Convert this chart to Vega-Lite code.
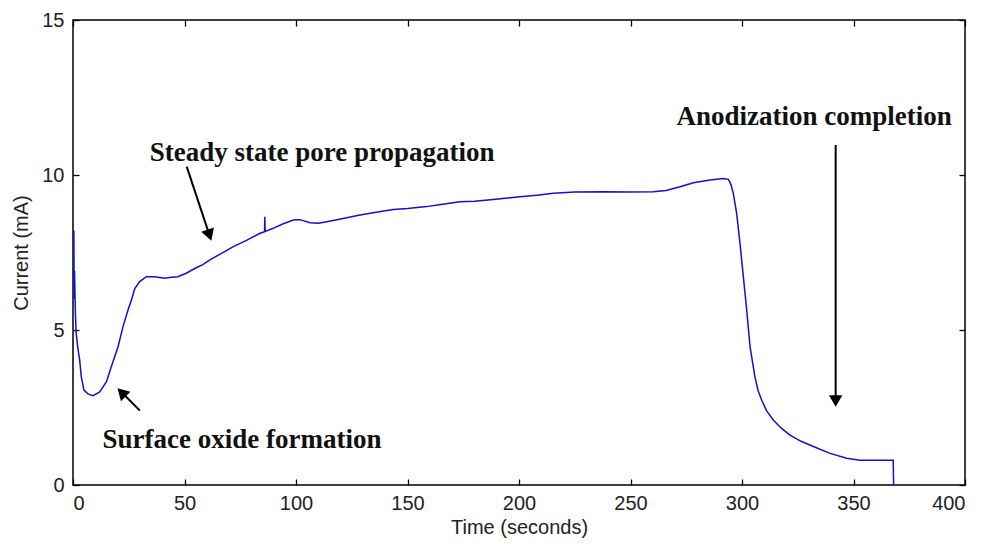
{
  "$schema": "https://vega.github.io/schema/vega-lite/v6.json",
  "width": 892,
  "height": 465,
  "autosize": "none",
  "padding": {"left": 73, "top": 20, "right": 20, "bottom": 59},
  "background": "white",
  "config": {
    "view": {"stroke": "#000000", "strokeWidth": 1.5},
    "axis": {
      "grid": false,
      "domain": false,
      "tickColor": "#000000",
      "tickSize": -6,
      "tickWidth": 1.3,
      "labelFont": "Liberation Sans",
      "labelFontSize": 20,
      "labelColor": "#222222",
      "titleFont": "Liberation Sans",
      "titleFontSize": 20,
      "titleFontWeight": "normal",
      "titleColor": "#222222"
    }
  },
  "datasets": {
    "curve": [
      {"t": 0.4, "I": 8.2}, {"t": 0.5, "I": 6.0}, {"t": 0.7, "I": 6.9}, {"t": 0.9, "I": 6.1},
      {"t": 1.1, "I": 5.5}, {"t": 1.4, "I": 4.9}, {"t": 2.2, "I": 4.4}, {"t": 3, "I": 4.03},
      {"t": 3.7, "I": 3.5}, {"t": 4.9, "I": 3.06}, {"t": 6.7, "I": 2.94}, {"t": 9, "I": 2.88},
      {"t": 12, "I": 3.0}, {"t": 15, "I": 3.33}, {"t": 17.2, "I": 3.82}, {"t": 20.2, "I": 4.46},
      {"t": 22.4, "I": 5.1}, {"t": 24.7, "I": 5.65}, {"t": 26.2, "I": 5.97}, {"t": 27.7, "I": 6.34},
      {"t": 29.9, "I": 6.56}, {"t": 32.9, "I": 6.72}, {"t": 36.6, "I": 6.72}, {"t": 41.1, "I": 6.67},
      {"t": 44, "I": 6.7}, {"t": 47, "I": 6.72}, {"t": 50.8, "I": 6.83}, {"t": 55, "I": 7.0},
      {"t": 58, "I": 7.1}, {"t": 61.4, "I": 7.26}, {"t": 66, "I": 7.45}, {"t": 71.9, "I": 7.69}, {"t": 78, "I": 7.9},
      {"t": 83.9, "I": 8.12}, {"t": 85.9, "I": 8.17}, {"t": 86, "I": 8.65}, {"t": 86.2, "I": 8.18},
      {"t": 89.8, "I": 8.28}, {"t": 94, "I": 8.42}, {"t": 98.8, "I": 8.55}, {"t": 101.8, "I": 8.56},
      {"t": 106.3, "I": 8.46}, {"t": 110, "I": 8.44}, {"t": 113.8, "I": 8.49}, {"t": 120, "I": 8.58},
      {"t": 128.7, "I": 8.71}, {"t": 136, "I": 8.8}, {"t": 143.6, "I": 8.89}, {"t": 150, "I": 8.92},
      {"t": 158.6, "I": 8.98}, {"t": 165, "I": 9.05}, {"t": 173.5, "I": 9.14}, {"t": 180, "I": 9.15},
      {"t": 188.5, "I": 9.21}, {"t": 200.4, "I": 9.3}, {"t": 208, "I": 9.35}, {"t": 215.4, "I": 9.41},
      {"t": 225, "I": 9.45}, {"t": 237.8, "I": 9.46}, {"t": 250, "I": 9.45}, {"t": 260.2, "I": 9.46},
      {"t": 266, "I": 9.5}, {"t": 272.2, "I": 9.62}, {"t": 278.2, "I": 9.75}, {"t": 285.7, "I": 9.84},
      {"t": 291.6, "I": 9.89}, {"t": 293.9, "I": 9.86}, {"t": 295, "I": 9.7}, {"t": 296.1, "I": 9.41}, {"t": 297.6, "I": 8.76},
      {"t": 299.1, "I": 7.8}, {"t": 300.6, "I": 6.72}, {"t": 302.1, "I": 5.65}, {"t": 303.6, "I": 4.46},
      {"t": 305.8, "I": 3.49}, {"t": 307.2, "I": 3.05}, {"t": 308.8, "I": 2.74}, {"t": 311, "I": 2.4}, {"t": 314, "I": 2.1},
      {"t": 317.5, "I": 1.84}, {"t": 321.5, "I": 1.61}, {"t": 326.5, "I": 1.41},
      {"t": 332, "I": 1.24}, {"t": 339.5, "I": 1.02}, {"t": 346.9, "I": 0.86}, {"t": 352.9, "I": 0.8},
      {"t": 360, "I": 0.8}, {"t": 367.8, "I": 0.8}, {"t": 368, "I": 0}
    ],
    "notes": [
      {"label": "Steady state pore propagation", "t": 111.7, "I": 10.7},
      {"label": "Surface oxide formation", "t": 75.8, "I": 1.45},
      {"label": "Anodization completion", "t": 332.3, "I": 11.87}
    ],
    "arrows": [
      {"name": "steady", "t": 51, "I": 10.27, "t2": 61.2, "I2": 8.06},
      {"name": "oxide", "t": 30.0, "I": 2.4, "t2": 21.8, "I2": 2.99},
      {"name": "anod", "t": 342, "I": 10.97, "t2": 342, "I2": 2.71}
    ]
  },
  "layer": [
    {
      "data": {"name": "curve"},
      "mark": {"type": "line", "color": "#1010d8", "strokeWidth": 1.5},
      "encoding": {
        "x": {
          "field": "t", "type": "quantitative",
          "scale": {"domain": [0, 400], "nice": false, "zero": false},
          "axis": {"orient": "bottom", "values": [0, 50, 100, 150, 200, 250, 300, 350, 400], "title": "Time (seconds)", "labelPadding": 14, "titlePadding": 4}
        },
        "y": {
          "field": "I", "type": "quantitative",
          "scale": {"domain": [0, 15], "nice": false},
          "axis": {"orient": "left", "values": [0, 5, 10, 15], "title": "Current (mA)", "labelPadding": 15, "titlePadding": 10}
        }
      }
    },
    {
      "data": {"name": "curve"},
      "mark": {"type": "point", "opacity": 0},
      "encoding": {
        "x": {"field": "t", "type": "quantitative",
          "axis": {"orient": "top", "values": [0, 50, 100, 150, 200, 250, 300, 350, 400], "labels": false, "title": null}},
        "y": {"field": "I", "type": "quantitative",
          "axis": {"orient": "right", "values": [0, 5, 10, 15], "labels": false, "title": null}}
      }
    },
    {
      "data": {"name": "arrows"},
      "mark": {"type": "rule", "color": "#000000", "strokeWidth": 2},
      "encoding": {
        "x": {"field": "t", "type": "quantitative", "axis": null},
        "y": {"field": "I", "type": "quantitative", "axis": null},
        "x2": {"field": "t2"},
        "y2": {"field": "I2"}
      }
    },
    {
      "data": {"name": "arrows"},
      "transform": [{"filter": "datum.name == 'steady'"}],
      "mark": {"type": "point", "shape": "triangle-down", "filled": true, "color": "#000000", "size": 180, "angle": -19, "opacity": 1},
      "encoding": {
        "x": {"field": "t2", "type": "quantitative", "axis": null},
        "y": {"field": "I2", "type": "quantitative", "axis": null}
      }
    },
    {
      "data": {"name": "arrows"},
      "transform": [{"filter": "datum.name == 'oxide'"}],
      "mark": {"type": "point", "shape": "triangle-down", "filled": true, "color": "#000000", "size": 180, "angle": 135, "opacity": 1},
      "encoding": {
        "x": {"field": "t2", "type": "quantitative", "axis": null},
        "y": {"field": "I2", "type": "quantitative", "axis": null}
      }
    },
    {
      "data": {"name": "arrows"},
      "transform": [{"filter": "datum.name == 'anod'"}],
      "mark": {"type": "point", "shape": "triangle-down", "filled": true, "color": "#000000", "size": 180, "angle": 0, "opacity": 1},
      "encoding": {
        "x": {"field": "t2", "type": "quantitative", "axis": null},
        "y": {"field": "I2", "type": "quantitative", "axis": null}
      }
    },
    {
      "data": {"name": "notes"},
      "mark": {"type": "text", "font": "Liberation Serif", "fontSize": 27, "fontWeight": "bold", "color": "#111111", "align": "center", "baseline": "middle"},
      "encoding": {
        "x": {"field": "t", "type": "quantitative", "axis": null},
        "y": {"field": "I", "type": "quantitative", "axis": null},
        "text": {"field": "label"}
      }
    }
  ]
}
